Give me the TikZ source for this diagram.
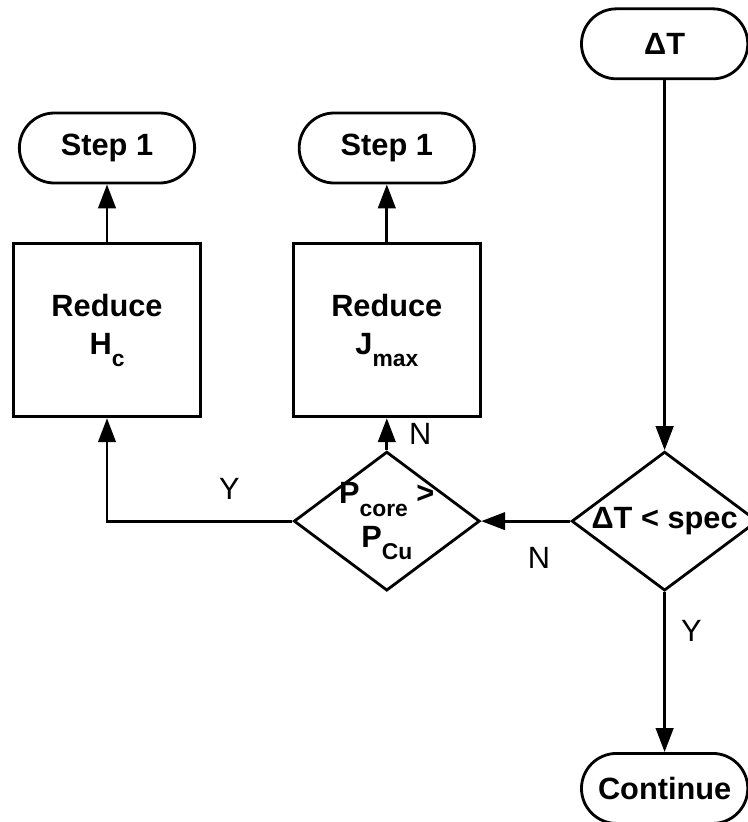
\documentclass[tikz,border=0pt]{standalone}
\usepackage{fontspec}
\setmainfont{Liberation Sans}
\usepackage{tikz}
\usetikzlibrary{arrows.meta, positioning, shapes.geometric, shapes.misc}

\newcommand{\lowsub}[1]{\raisebox{-7pt}{\fontsize{13}{13}\selectfont #1}}

\begin{document}
\begin{tikzpicture}[
    >={Triangle[length=0.48cm, width=0.35cm]},
    font=\fontsize{17.5}{21.6}\selectfont,
    terminal/.style={
      rounded rectangle,
      draw,
      line width=1.6pt,
      font=\fontsize{17.5}{21.6}\selectfont\bfseries,
      minimum width=3.56cm,
      minimum height=1.4cm
    },
    block/.style={
      rectangle,
      draw,
      line width=1.6pt,
      align=center,
      font=\fontsize{17.5}{21.6}\selectfont\bfseries,
      minimum width=3.74cm,
      minimum height=3.46cm
    },
    decision/.style={
      diamond,
      draw,
      line width=1.6pt,
      align=center,
      aspect=1.34,
      inner sep=-1.5pt,
      font=\fontsize{17.5}{21.6}\selectfont\bfseries,
      minimum width=3.72cm,
      minimum height=2.78cm
    },
    lbl/.style={inner sep=0pt}
  ]
    \useasboundingbox (0,0) rectangle (14.96,-16.44);
    \node[terminal, minimum width=3.74cm] (stepH) at (2.14,-2.96) {Step 1};
    \node[block, below=1.16cm of stepH]  (redH) {Reduce\\H\lowsub{c}};
    \node[block, right=1.8cm of redH]    (redJ) {Reduce\\J\lowsub{max}};
    \node[terminal, minimum width=3.74cm, above=1.16cm of redJ] (stepJ) {Step 1};
    \node[decision, below=0.64cm of redJ]   (ploss) {P\lowsub{core} >\\[3pt]P\lowsub{Cu}};
    \node[decision, right=1.78cm of ploss]  (spec)  {ΔT < spec};
    \node[terminal, above=7.4cm of spec]    (dT)    {ΔT};
    \node[terminal, below=3.2cm of spec]    (cont)  {Continue};
    \begin{scope}[->, line width=1.6pt]
      \draw (redH.north) -- (stepH.south);
      \draw (redJ.north) -- (stepJ.south);
      \draw (dT.south) -- (spec.north);
      \draw (spec.west) -- node[lbl, pos=0.35, below=0.5cm] (nSpec) {N} (ploss.east);
      \draw (ploss.north) -- node[lbl, midway, right=0.42cm] (nPloss) {N} (redJ.south);
      \draw (ploss.west) -| node[lbl, pos=0.17, above=0.4cm] (yPloss) {Y} (redH.south);
      \draw (spec.south) -- node[lbl, pos=0.24, right=0.3cm] (ySpec) {Y} (cont.north);
    \end{scope}
  \end{tikzpicture}
\end{document}
